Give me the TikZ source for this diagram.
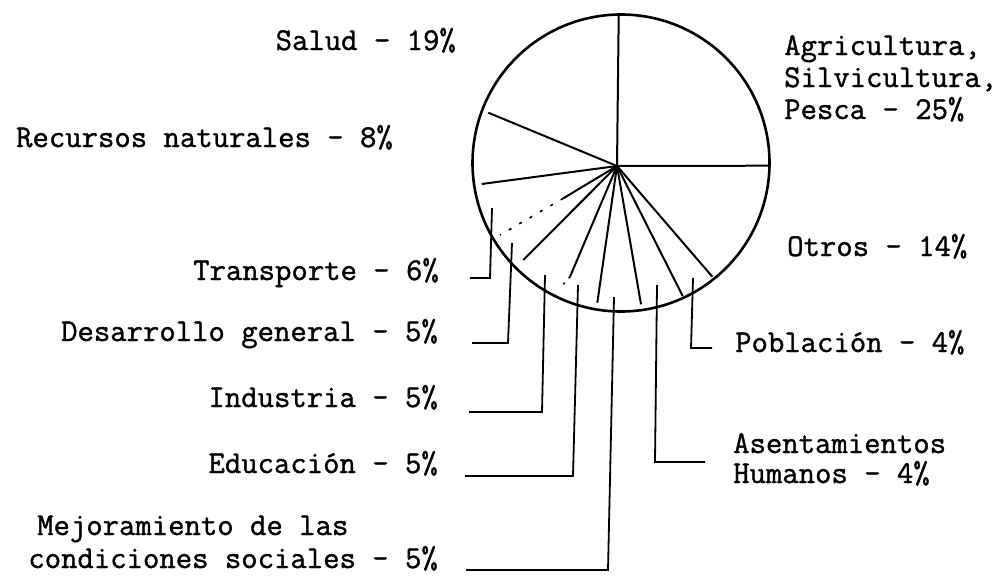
\documentclass[tikz,border=0pt]{standalone}
\usepackage{fontspec}
\setmainfont{Latin Modern Mono}[FakeBold=1.2]
\begin{document}
\begin{tikzpicture}[x=1pt,y=-1pt,
  lbl/.style={inner sep=0pt,font=\fontsize{31.8}{35}\selectfont},
  lblr/.style={lbl,anchor=base east},
  lbll/.style={lbl,anchor=base west},
  spoke/.style={line width=2pt},
  leader/.style={line width=1.8pt},
  rim/.style={line width=2.6pt}]
\useasboundingbox (0,0) rectangle (1003,576);
% pie
\coordinate (C) at (617,166);
\node[rim,draw,circle,minimum size=297pt,inner sep=0pt] (pie) at (621,163) {};
\coordinate (s1) at (618.7,16);
\coordinate (s2) at (768.3,165.7);
\coordinate (s3) at (712.3,276.7);
\coordinate (s4) at (682.7,296);
\coordinate (s5) at (641,304.3);
\coordinate (s6) at (597.3,302.7);
\coordinate (s7a) at (570,276.7);
\coordinate (s7) at (560,288);
\coordinate (s8) at (523.3,260);
\coordinate (s9a) at (563.3,198.3);
\coordinate (s9) at (500,235);
\coordinate (s10) at (481.7,184);
\coordinate (s11) at (488.3,112.7);
\foreach \s in {s1,s2,s3,s4,s5,s6,s7a,s8,s9a,s10,s11}
  \draw[spoke] (C) -- (\s);
\draw[line width=1.6pt,dash pattern=on 2pt off 6pt] (s7a) -- (s7);
\draw[line width=1.6pt,dash pattern=on 3pt off 9pt] (s9a) -- (s9);
% labels
\node[lblr] (salud) at (456,50) {Salud - 19\%};
\node[lblr] (recursos) at (393,147) {Recursos naturales - 8\%};
\node[lblr] (transporte) at (439,280) {Transporte - 6\%};
\node[lblr] (desarrollo) at (438,341) {Desarrollo general - 5\%};
\node[lblr] (industria) at (438,407) {Industria - 5\%};
\node[lblr] (educacion) at (438,473) {Educación - 5\%};
\node[lbll] (mejora1) at (37,535) {Mejoramiento de las};
\node[lblr] (mejora2) at (438,568) {condiciones sociales - 5\%};
\node[lbll] (agri1) at (784,55) {Agricultura,};
\node[lbll] (agri2) at (784,87) {Silvicultura,};
\node[lbll] (agri3) at (784,119) {Pesca - 25\%};
\node[lbll] (otros) at (787,256) {Otros - 14\%};
\node[lbll] (poblacion) at (735,352) {Población - 4\%};
\node[lbll] (asent1) at (733,453) {Asentamientos};
\node[lbll] (asent2) at (733,483) {Humanos - 4\%};
% leaders
\coordinate (t1) at (492,208); \coordinate (t2) at (490,278); \coordinate (t3) at (470,278);
\coordinate (d1) at (512,243); \coordinate (d2) at (508,343); \coordinate (d3) at (472,343);
\coordinate (i1) at (545,275); \coordinate (i2) at (542,412); \coordinate (i3) at (469,412);
\coordinate (e1) at (578,285); \coordinate (e2) at (573,476); \coordinate (e3) at (465,476);
\coordinate (m1) at (614,297); \coordinate (m2) at (608,570); \coordinate (m3) at (466,570);
\coordinate (a1) at (657,285); \coordinate (a2) at (655,462); \coordinate (a3) at (705,462);
\coordinate (p1) at (693,278); \coordinate (p2) at (691,348); \coordinate (p3) at (712,348);
\foreach \k in {t,d,i,e,m,a,p}
  \draw[leader] (\k1) -- (\k2) -- (\k3);
\end{tikzpicture}
\end{document}
